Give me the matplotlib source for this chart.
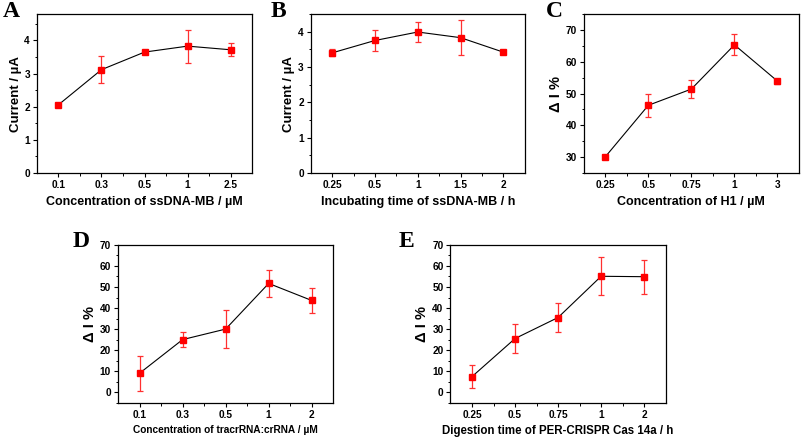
import matplotlib
matplotlib.use("Agg")
import matplotlib.pyplot as plt
from matplotlib.ticker import FixedLocator, MultipleLocator

plt.rcParams['font.family'] = ['Liberation Sans', 'DejaVu Sans']

# Panel A
a_labels = ["0.1", "0.3", "0.5", "1", "2.5"]
a_vals = [2.06, 3.12, 3.65, 3.83, 3.72]
a_err = [0.03, 0.40, 0.04, 0.50, 0.19]

# Panel B
b_labels = ["0.25", "0.5", "1", "1.5", "2"]
b_vals = [3.40, 3.75, 3.99, 3.83, 3.42]
b_err = [0.10, 0.29, 0.27, 0.50, 0.04]

# Panel C
c_labels = ["0.25", "0.5", "0.75", "1", "3"]
c_vals = [30.1, 46.3, 51.4, 65.3, 53.9]
c_err = [0.7, 3.6, 2.7, 3.3, 0.8]

# Panel D
d_labels = ["0.1", "0.3", "0.5", "1", "2"]
d_vals = [9.0, 25.0, 30.0, 51.7, 43.6]
d_err = [8.3, 3.4, 9.1, 6.4, 6.1]

# Panel E
e_labels = ["0.25", "0.5", "0.75", "1", "2"]
e_vals = [7.4, 25.5, 35.5, 55.1, 54.9]
e_err = [5.5, 6.9, 7.0, 9.0, 8.0]

fig = plt.figure(figsize=(8.03, 4.37), dpi=100)


def panel(rect, labels, vals, errs, ylim, ymaj, ymin, xlabel, ylabel,
          letter, letter_xy, xl_size=9, yl_size=9.5):
    ax = fig.add_axes(rect)
    x = list(range(len(labels)))
    ax.plot(x, vals, color='black', lw=0.8, zorder=2)
    ax.errorbar(x, vals, yerr=errs, fmt='s', color='red', ecolor='#ff3030',
                ms=3.8, elinewidth=0.9, capsize=2, capthick=0.9, zorder=3)
    ax.set_xlim(-0.5, len(labels) - 0.5)
    ax.set_ylim(*ylim)
    ax.set_xticks(x)
    ax.set_xticklabels(labels)
    ax.xaxis.set_minor_locator(FixedLocator([i + 0.5 for i in x[:-1]]))
    ax.yaxis.set_major_locator(MultipleLocator(ymaj))
    ax.yaxis.set_minor_locator(MultipleLocator(ymin))
    ax.tick_params(which='major', direction='out', length=3, width=0.8,
                   labelsize=7.3, pad=2)
    ax.tick_params(which='minor', direction='out', length=1.8, width=0.7)
    for t in ax.get_xticklabels() + ax.get_yticklabels():
        t.set_fontweight('bold')
    for s in ax.spines.values():
        s.set_linewidth(0.9)
    ax.set_xlabel(xlabel, fontsize=xl_size, fontweight='bold', labelpad=4)
    ax.set_ylabel(ylabel, fontsize=yl_size, fontweight='bold', labelpad=2)
    fig.text(letter_xy[0], letter_xy[1], letter, fontsize=17,
             fontweight='bold', family='Liberation Serif',
             ha='left', va='center')
    return ax


panel([0.046, 0.604, 0.268, 0.364], a_labels, a_vals, a_err, (0, 4.8), 1, 0.5,
      "Concentration of ssDNA-MB / µM", "Current / µA", "A", (0.004, 0.973))
panel([0.387, 0.604, 0.2665, 0.364], b_labels, b_vals, b_err, (0, 4.5), 1, 0.5,
      "Incubating time of ssDNA-MB / h", "Current / µA", "B", (0.337, 0.973))
panel([0.727, 0.604, 0.268, 0.364], c_labels, c_vals, c_err, (25, 75), 10, 5,
      "Concentration of H1 / µM", "Δ I %", "C", (0.680, 0.973), yl_size=10.5)
panel([0.147, 0.0785, 0.268, 0.361], d_labels, d_vals, d_err, (-5, 70), 10, 5,
      "Concentration of tracrRNA:crRNA / µM", "Δ I %", "D", (0.090, 0.447),
      xl_size=7.3, yl_size=10.5)
panel([0.561, 0.0785, 0.268, 0.361], e_labels, e_vals, e_err, (-5, 70), 10, 5,
      "Digestion time of PER-CRISPR Cas 14a / h", "Δ I %", "E", (0.497, 0.447),
      xl_size=8.3, yl_size=10.5)

plt.savefig("out.png", dpi=100)
